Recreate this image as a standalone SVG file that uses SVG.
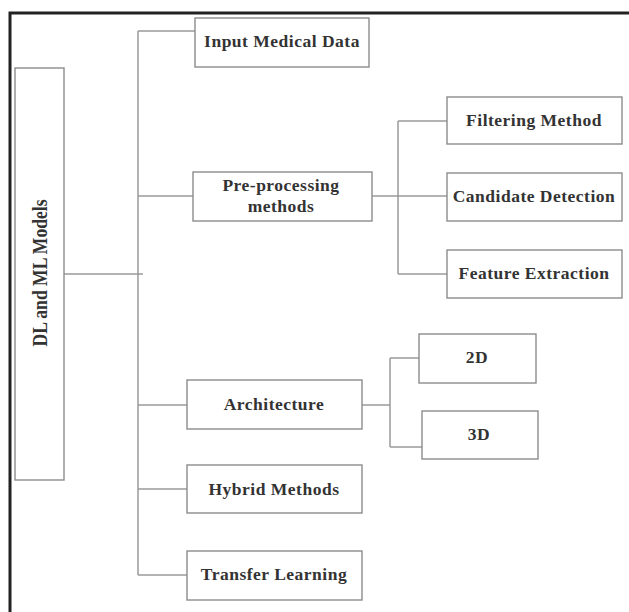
<svg xmlns="http://www.w3.org/2000/svg" width="629" height="612" viewBox="0 0 629 612">
<style>
.box{fill:#fff;stroke:#8c8c8c;stroke-width:1.4}
.ln{fill:none;stroke:#9a9a9a;stroke-width:1.5}
.t{font-family:"Liberation Serif","Times New Roman",serif;font-weight:bold;font-size:17.5px;fill:#333;text-anchor:middle;letter-spacing:0.5px}
</style>
<rect width="629" height="612" fill="#fff"/>
<path d="M10 612V13H629" fill="none" stroke="#222" stroke-width="3"/>
<g id="connectors">
<path class="ln" d="M64 274H143"/>
<path class="ln" d="M138 31V575"/>
<path class="ln" d="M138 31H195M138 196H193M138 405H187M138 489H187M138 575H187"/>
<path class="ln" d="M372 196H447M398 121V274M398 121H447M398 274H447"/>
<path class="ln" d="M362 405H390M390 358V447M390 358H419M390 447H422"/>
</g>
<g id="root"><rect class="box" x="15" y="68" width="49" height="412"/>
<text class="t" transform="translate(40 273) rotate(-90) scale(0.88 1)" y="6.5" style="letter-spacing:0;font-size:20px">DL and ML Models</text></g>
<g id="input"><rect class="box" x="195" y="18" width="174" height="49"/><text class="t" x="282" y="47">Input Medical Data</text></g>
<g id="preproc"><rect class="box" x="193" y="172" width="179" height="49"/><text class="t" x="281" y="191">Pre-processing</text><text class="t" x="281" y="212">methods</text></g>
<g id="filtering"><rect class="box" x="447" y="97" width="175" height="47"/><text class="t" x="534" y="125.5">Filtering Method</text></g>
<g id="candidate"><rect class="box" x="447" y="173" width="175" height="48"/><text class="t" x="534" y="202">Candidate Detection</text></g>
<g id="feature"><rect class="box" x="447" y="250" width="175" height="48"/><text class="t" x="534" y="279">Feature Extraction</text></g>
<g id="arch"><rect class="box" x="187" y="380" width="175" height="49"/><text class="t" x="274" y="410">Architecture</text></g>
<g id="d2"><rect class="box" x="419" y="334" width="117" height="49"/><text class="t" x="477" y="363">2D</text></g>
<g id="d3"><rect class="box" x="422" y="411" width="116" height="48"/><text class="t" x="479" y="440">3D</text></g>
<g id="hybrid"><rect class="box" x="187" y="465" width="175" height="48"/><text class="t" x="274" y="495">Hybrid Methods</text></g>
<g id="transfer"><rect class="box" x="187" y="551" width="175" height="49"/><text class="t" x="274" y="580">Transfer Learning</text></g>
</svg>
